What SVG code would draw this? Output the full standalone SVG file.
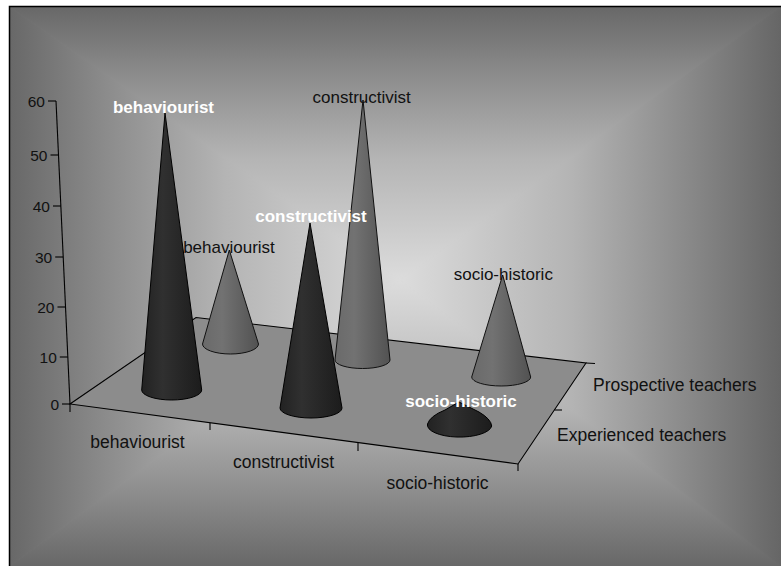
<svg xmlns="http://www.w3.org/2000/svg" width="781" height="566" viewBox="0 0 781 566">
  <style>
    .ax { stroke: #000; stroke-width: 1.1; fill: none; }
    .tick { font-family: "Liberation Sans", Arial, sans-serif; font-size: 15.5px; fill: #111; text-anchor: end; }
    .cat { font-family: "Liberation Sans", Arial, sans-serif; font-size: 17.5px; fill: #111; text-anchor: middle; }
    .ser { font-family: "Liberation Sans", Arial, sans-serif; font-size: 17.5px; fill: #111; }
    .lblP { font-family: "Liberation Sans", Arial, sans-serif; font-size: 17px; fill: #111; text-anchor: middle; }
    .lblE { font-family: "Liberation Sans", Arial, sans-serif; font-size: 17px; font-weight: bold; fill: #fff; text-anchor: middle; }
    .coneE { fill: url(#gE); stroke: #000; stroke-width: 1; }
    .coneP { fill: url(#gP); stroke: #111; stroke-width: 1; }
  </style>
  <defs>
    <linearGradient id="bgL" gradientUnits="userSpaceOnUse" x1="10" y1="0" x2="400" y2="0">
      <stop offset="0" stop-color="#686868"/>
      <stop offset="0.25" stop-color="#8c8c8c"/>
      <stop offset="0.55" stop-color="#b4b4b4"/>
      <stop offset="1" stop-color="#dcdcdc"/>
    </linearGradient>
    <linearGradient id="bgR" gradientUnits="userSpaceOnUse" x1="781" y1="0" x2="400" y2="0">
      <stop offset="0" stop-color="#666666"/>
      <stop offset="0.25" stop-color="#8a8a8a"/>
      <stop offset="0.55" stop-color="#b4b4b4"/>
      <stop offset="1" stop-color="#dcdcdc"/>
    </linearGradient>
    <linearGradient id="bgT" gradientUnits="userSpaceOnUse" x1="0" y1="7" x2="0" y2="280">
      <stop offset="0" stop-color="#686868"/>
      <stop offset="0.25" stop-color="#8c8c8c"/>
      <stop offset="0.55" stop-color="#b4b4b4"/>
      <stop offset="1" stop-color="#dcdcdc"/>
    </linearGradient>
    <linearGradient id="bgB" gradientUnits="userSpaceOnUse" x1="0" y1="566" x2="0" y2="280">
      <stop offset="0" stop-color="#686868"/>
      <stop offset="0.25" stop-color="#8c8c8c"/>
      <stop offset="0.55" stop-color="#b4b4b4"/>
      <stop offset="1" stop-color="#dcdcdc"/>
    </linearGradient>
    <linearGradient id="gE" x1="0" y1="0" x2="1" y2="0">
      <stop offset="0" stop-color="#222"/>
      <stop offset="0.35" stop-color="#303030"/>
      <stop offset="1" stop-color="#1c1c1c"/>
    </linearGradient>
    <linearGradient id="gP" x1="0" y1="0" x2="1" y2="0">
      <stop offset="0" stop-color="#6a6a6a"/>
      <stop offset="0.35" stop-color="#727272"/>
      <stop offset="1" stop-color="#525252"/>
    </linearGradient>
  </defs>

  <!-- background -->
  <rect x="0" y="0" width="781" height="566" fill="#fff"/>
  <g id="background">
    <rect x="10" y="7" width="771" height="559" fill="#a0a0a0"/>
    <polygon points="10,7 781,7 400,280" fill="url(#bgT)" stroke="url(#bgT)" stroke-width="1"/>
    <polygon points="10,566 781,566 400,280" fill="url(#bgB)" stroke="url(#bgB)" stroke-width="1"/>
    <polygon points="10,7 10,566 400,280" fill="url(#bgL)" stroke="url(#bgL)" stroke-width="1"/>
    <polygon points="781,7 781,566 400,280" fill="url(#bgR)" stroke="url(#bgR)" stroke-width="1"/>
    <polyline points="9.5,566 9.5,6.5 781,6.5" fill="none" stroke="#000" stroke-width="1.5"/>
  </g>

  <!-- floor and axes -->
  <g id="axes">
    <polygon points="70,404 196,317.5 586,363 518,464" fill="#8c8c8c" stroke="#000" stroke-width="1.1"/>
    <line class="ax" x1="586" y1="363" x2="595" y2="363.5"/>
    <line class="ax" x1="56" y1="101" x2="70" y2="404"/>
    <line class="ax" x1="48" y1="101" x2="56" y2="101"/>
    <line class="ax" x1="50.5" y1="155" x2="58.5" y2="155"/>
    <line class="ax" x1="53" y1="206" x2="61" y2="206"/>
    <line class="ax" x1="55.2" y1="257" x2="63.2" y2="257"/>
    <line class="ax" x1="57.5" y1="307" x2="65.5" y2="307"/>
    <line class="ax" x1="59.8" y1="357" x2="67.8" y2="357"/>
    <line class="ax" x1="62" y1="404" x2="70" y2="404"/>
    <line class="ax" x1="70" y1="404" x2="70" y2="412"/>
    <line class="ax" x1="210" y1="423" x2="210" y2="430"/>
    <line class="ax" x1="358" y1="443" x2="358" y2="451"/>
    <line class="ax" x1="518" y1="464" x2="518" y2="471"/>
    <line class="ax" x1="554.5" y1="410" x2="562" y2="410"/>
    <text class="tick" x="45" y="106.5">60</text>
    <text class="tick" x="47.5" y="160.5">50</text>
    <text class="tick" x="50" y="211.5">40</text>
    <text class="tick" x="52.2" y="262.5">30</text>
    <text class="tick" x="54.5" y="312.5">20</text>
    <text class="tick" x="56.8" y="362.5">10</text>
    <text class="tick" x="59" y="409.5">0</text>
    <text class="cat" x="137.5" y="448">behaviourist</text>
    <text class="cat" x="283.5" y="467.5">constructivist</text>
    <text class="cat" x="437.5" y="488.5">socio-historic</text>
    <text class="ser" x="593" y="390.5">Prospective teachers</text>
    <text class="ser" x="557" y="440.5">Experienced teachers</text>
  </g>

  <!-- prospective labels (behind tips) -->
  <g id="labels-prospective">
    <text class="lblP" x="229" y="252.5">behaviourist</text>
    <text class="lblP" x="361.7" y="102.5">constructivist</text>
    <text class="lblP" x="503.3" y="279.5">socio-historic</text>
  </g>

  <!-- prospective cones -->
  <g id="cone-prospective-behaviourist">
    <path class="coneP" d="M229.3,250 L202.5,344 A28,10 0 0 0 258.5,344 Z"/>
  </g>
  <g id="cone-prospective-constructivist">
    <path class="coneP" d="M363,100 L335,360 A27.5,8.5 0 0 0 390,360 Z"/>
  </g>
  <g id="cone-prospective-socio-historic">
    <path class="coneP" d="M502.7,275 L471.7,377 A29.5,9 0 0 0 530.7,377 Z"/>
  </g>

  <!-- experienced cones -->
  <g id="cone-experienced-behaviourist">
    <path class="coneE" d="M165,113 L141.7,390 A30,10 0 0 0 201.7,390 Z"/>
  </g>
  <g id="cone-experienced-constructivist">
    <path class="coneE" d="M310,223 L280,408 A31,10 0 0 0 342,408 Z"/>
  </g>
  <g id="cone-experienced-socio-historic">
    <path class="coneE" d="M427.5,424 Q430,416 445,410 L459,402 L479,412 Q491,419 491.7,426 A32,12 0 0 1 427.5,424 Z"/>
  </g>

  <!-- experienced labels -->
  <g id="labels-experienced">
    <text class="lblE" x="163.5" y="113.3" font-size="17.5">behaviourist</text>
    <text class="lblE" x="311" y="221.7">constructivist</text>
    <text class="lblE" x="461" y="407.3">socio-historic</text>
  </g>
</svg>
